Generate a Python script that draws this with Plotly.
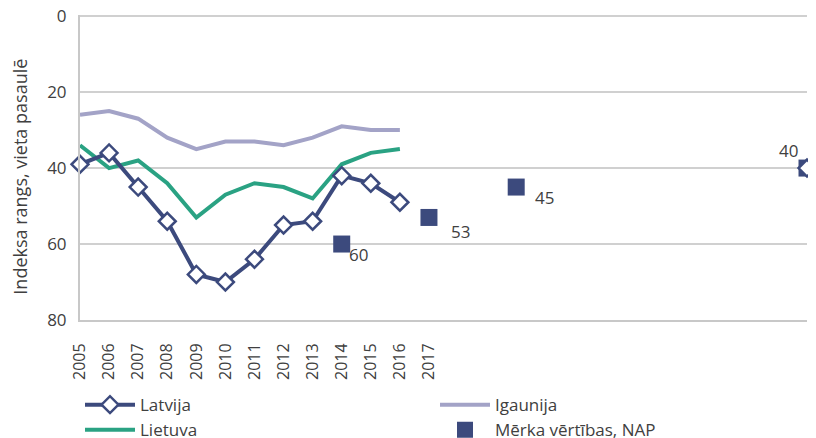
import plotly.graph_objects as go

years = list(range(2005, 2031))
tick_years = list(range(2005, 2018))

latvija = [39, 36, 45, 54, 68, 70, 64, 55, 54, 42, 44, 49]
igaunija = [26, 25, 27, 32, 35, 33, 33, 34, 32, 29, 30, 30]
lietuva = [34, 40, 38, 44, 53, 47, 44, 45, 48, 39, 36, 35]
latvija_2030 = 40

target_years = [2014, 2017, 2020, 2030]
target_vals = [60, 53, 45, 40]

# label offsets (px) for the target values, as placed in the original
label_dx = [17, 32, 28, -19]
label_dy = [-10, -14, -10, 18]

navy = "#3c4a7d"
lavender = "#a3a3c7"
teal = "#2aa283"
text_col = "#404040"
font = "Open Sans"

# Latvija line with a gap up to the 2030 target point
lat_full = latvija + [None] * (len(years) - len(latvija) - 1) + [latvija_2030]

fig = go.Figure()

fig.add_trace(go.Scatter(
    x=target_years, y=target_vals, mode="markers",
    name="Mērka vērtības, NAP", legendrank=4,
    marker=dict(symbol="square", size=17, color=navy),
    cliponaxis=False,
))

fig.add_trace(go.Scatter(
    x=years[:len(igaunija)], y=igaunija, mode="lines", name="Igaunija",
    legendrank=2, line=dict(color=lavender, width=4), cliponaxis=False,
))

fig.add_trace(go.Scatter(
    x=years[:len(lietuva)], y=lietuva, mode="lines", name="Lietuva",
    legendrank=3, line=dict(color=teal, width=4), cliponaxis=False,
))

fig.add_trace(go.Scatter(
    x=years, y=lat_full, mode="lines+markers", name="Latvija",
    legendrank=1, connectgaps=False,
    line=dict(color=navy, width=4),
    marker=dict(symbol="diamond", size=13, color="white",
                line=dict(color=navy, width=2.5)),
    cliponaxis=False,
))

for yr, v, dx, dy in zip(target_years, target_vals, label_dx, label_dy):
    fig.add_annotation(
        x=yr, y=v, text=str(v), showarrow=False,
        xshift=dx, yshift=dy,
        font=dict(size=17, color=text_col, family=font),
    )

# y-axis title as annotation (sits a bit below the axis centre in the original)
fig.add_annotation(
    xref="paper", yref="paper", x=-0.0825, y=0.47,
    xanchor="center", yanchor="middle",
    text="Indeksa rangs, vieta pasaulē", textangle=-90, showarrow=False,
    font=dict(size=18, color=text_col, family=font),
)

fig.update_layout(
    width=816, height=438,
    margin=dict(l=72, r=17, t=7, b=126, autoexpand=False),
    paper_bgcolor="white", plot_bgcolor="white",
    font=dict(family=font, color=text_col, size=16),
    showlegend=True,
    legend=dict(
        orientation="h", x=0.0, y=-0.22, xanchor="left", yanchor="top",
        entrywidth=290, entrywidthmode="pixels",
        font=dict(size=17, color=text_col, family=font),
        itemwidth=50, tracegroupgap=0,
    ),
)

fig.update_xaxes(
    range=[2005, 2030], tickmode="array", tickvals=tick_years,
    ticktext=[str(y) for y in tick_years], tickangle=-90,
    showgrid=False, zeroline=False, automargin=False,
    showline=True, linecolor="#c8c8c8", linewidth=2,
    ticklabelstandoff=15,
    tickfont=dict(size=16, color=text_col),
)

fig.update_yaxes(
    range=[80, -0.3], tickvals=[0, 20, 40, 60, 80],
    showgrid=True, gridcolor="#d0d0d0", gridwidth=1.5,
    zeroline=False, showline=True, linecolor="#c8c8c8", linewidth=2,
    ticks="", ticklabelstandoff=8, automargin=False,
    ticklabeloverflow="allow",
    tickfont=dict(size=17, color=text_col),
)

fig.write_html("out.html")
